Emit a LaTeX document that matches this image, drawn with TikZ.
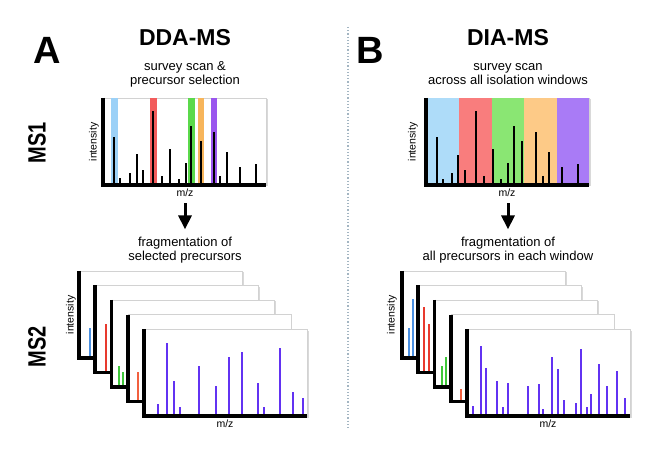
\documentclass[tikz,border=0pt]{standalone}
\usepackage{fontspec}
\setmainfont{Liberation Sans}
\usepackage{tikz}
\usetikzlibrary{positioning, arrows.meta, shadows}

\definecolor{bandblueA}{HTML}{9CD1F7}
\definecolor{bandredA}{HTML}{F25C5C}
\definecolor{bandgreenA}{HTML}{5BD94B}
\definecolor{bandorangeA}{HTML}{F7B55B}
\definecolor{bandpurpleA}{HTML}{9A56EE}
\definecolor{bandblueB}{HTML}{AEDCF9}
\definecolor{bandredB}{HTML}{F97D7D}
\definecolor{bandgreenB}{HTML}{8AE673}
\definecolor{bandorangeB}{HTML}{FDCA87}
\definecolor{bandpurpleB}{HTML}{A97BF6}
\definecolor{peakblue}{HTML}{4A90E2}
\definecolor{peakred}{HTML}{E83A2E}
\definecolor{peakgreen}{HTML}{3FC83A}
\definecolor{peakorange}{HTML}{F2603F}
\definecolor{peakviolet}{HTML}{6232F2}
\definecolor{sepgray}{HTML}{A3B5C2}

\begin{document}
\begin{tikzpicture}[x=1pt, y=-1pt,
    frame/.style={draw=gray!35, fill=white, line width=0.5pt, inner sep=0pt, outer sep=0pt,
        minimum width=163pt, minimum height=87pt,
        drop shadow={shadow xshift=1.5pt, shadow yshift=-1.5pt, opacity=0.3}},
    axis/.style={line width=3.6pt, line join=miter},
    peak/.style={line width=2.6pt},
    fragpeak/.style={line width=2.3pt},
    letter/.style={font=\fontsize{38}{40}\selectfont\bfseries},
    title/.style={font=\fontsize{23}{24}\selectfont\bfseries},
    rowlabel/.style={font=\fontsize{25}{26}\selectfont\bfseries, rotate=90, xscale=0.8},
    caption/.style={font=\fontsize{13}{14}\selectfont, align=center},
    small/.style={font=\fontsize{10.5}{12}\selectfont},
    flow/.style={-{Triangle[length=14pt, width=13pt]}, line width=3pt},
]
\useasboundingbox (0,0) rectangle (651,449);

% Headings
\node[letter] (labA) at (47,50) {A};
\node[letter] (labB) at (370,50) {B};
\node[title] (ddams) at (185,38) {DDA-MS};
\node[title] (diams) at (508,38) {DIA-MS};
\node[caption] (surveyA) at (185,74) {survey scan \&\\precursor selection};
\node[caption] (surveyB) at (508,74) {survey scan\\across all isolation windows};
\node[rowlabel] (ms1) at (37,143) {MS1};
\node[rowlabel] (ms2) at (37,347) {MS2};

% Separator
\draw[sepgray, line width=1.2pt, dotted] (348,27) -- (348,430);

% MS1 survey scan, DDA: narrow selection bands
\node[frame] (ms1A) at (184.5,141.5) {};
\foreach \x/\col in {114.5/bandblueA, 153.5/bandredA, 191.5/bandgreenA, 201/bandorangeA, 214/bandpurpleA}
    \fill[\col] (\x-3.3,98) rectangle (\x+3.3,185);
\foreach \x/\t in {114/137, 120/178, 130/173, 137/154, 143/170, 153/111, 162/176, 170/149, 179/179,
        186/163, 191/126, 201/141, 214/132, 220/176, 227/152, 240/167, 256/164}
    \draw[peak] (\x,185) -- (\x,\t);
\draw[axis] (ms1A.north west) -- (ms1A.south west) -- (ms1A.south east);
\node[small, rotate=90] (intA) at (94,142) {intensity};
\node[small] (mzA) at (185,193) {m/z};

% MS1 survey scan, DIA: adjacent isolation windows
\node[frame] (ms1B) at (507.5,141.5) {};
\foreach \a/\b/\col in {426/459/bandblueB, 459/492/bandredB, 492/524/bandgreenB, 524/557/bandorangeB, 557/589/bandpurpleB}
    \fill[\col] (\a,98) rectangle (\b,185);
\foreach \x/\t in {437/137, 443/179, 452/173, 458/155, 465/170, 476/111, 484/176, 493/149, 501/179,
        508/163, 514/126, 522/141, 536/132, 543/176, 549/152, 562/167, 578/164}
    \draw[peak] (\x,185) -- (\x,\t);
\draw[axis] (ms1B.north west) -- (ms1B.south west) -- (ms1B.south east);
\node[small, rotate=90] (intB) at (413,142) {intensity};
\node[small] (mzB) at (507,193) {m/z};

% Arrows to fragmentation
\node[caption] (fragA) at (185,250) {fragmentation of\\selected precursors};
\node[caption] (fragB) at (508,250) {fragmentation of\\all precursors in each window};
\draw[flow] ([yshift=-3pt]mzA.south) -- ([yshift=4pt]fragA.north);
\draw[flow] ([yshift=-3pt]mzB.south -| fragB) -- ([yshift=4pt]fragB.north);

% MS2 stack, DDA
\foreach \i/\col/\pk in {0/peakblue/{90/328}, 1/peakred/{106/324}, 2/peakgreen/{119/366,123/372}, 3/peakorange/{138/372}} {
    \node[frame] (msA\i) at ({160.5+16.25*\i},{314.5+14.5*\i}) {};
    \foreach \x/\t in \pk
        \draw[fragpeak, \col] (\x,{358+14.5*\i}) -- (\x,\t);
    \draw[axis] (msA\i.north west) -- (msA\i.south west) -- (msA\i.south east);
}
\node[frame] (msA4) at (225.5,372.5) {};
\foreach \x/\t in {158/404, 167/343, 174/381, 180/407, 199/366, 216/386, 229/357, 242/352,
        258/383, 264/407, 280/348, 293/392, 303/398}
    \draw[fragpeak, peakviolet] (\x,416) -- (\x,\t);
\draw[axis] (msA4.north west) -- (msA4.south west) -- (msA4.south east);
\node[small, rotate=90] (int2A) at (71,315) {intensity};
\node[small] (mz2A) at (225,424) {m/z};

% MS2 stack, DIA
\foreach \i/\col/\pk in {0/peakblue/{409/328,413/299,417/343}, 1/peakred/{424/307,429/324}, 2/peakgreen/{442/366,446/357}, 3/peakorange/{461/389}} {
    \node[frame] (msB\i) at ({483.5+16.25*\i},{314.5+14.5*\i}) {};
    \foreach \x/\t in \pk
        \draw[fragpeak, \col] (\x,{358+14.5*\i}) -- (\x,\t);
    \draw[axis] (msB\i.north west) -- (msB\i.south west) -- (msB\i.south east);
}
\node[frame] (msB4) at (548.5,372.5) {};
\foreach \x/\t in {473/406, 481/346, 486/368, 497/381, 503/407, 508/383, 528/386, 539/384, 543/409, 552/357,
        558/369, 564/400, 576/403, 581/349, 587/407, 591/394, 599/364, 607/386, 617/371, 625/398}
    \draw[fragpeak, peakviolet] (\x,416) -- (\x,\t);
\draw[axis] (msB4.north west) -- (msB4.south west) -- (msB4.south east);
\node[small, rotate=90] (int2B) at (392,315) {intensity};
\node[small] (mz2B) at (548,424) {m/z};

\end{tikzpicture}
\end{document}
